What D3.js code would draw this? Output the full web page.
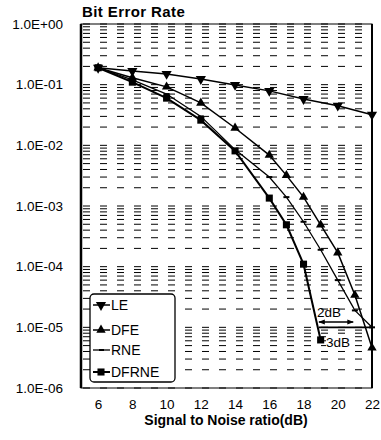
<!DOCTYPE html>
<meta charset="utf-8">
<style>
body { margin:0; background:#fff; font-family: Arial, "Liberation Sans", Helvetica, sans-serif; }
.grid line { stroke:#000; stroke-width:1; stroke-dasharray:7,10; }
</style>
<svg width="381" height="440"></svg>
<script src="https://d3js.org/d3.v7.min.js"></script>
<script>
// data
var xLE = [6, 8, 10, 12, 14, 16, 18, 20, 22];
var valLE = [0.19, 0.168, 0.15, 0.124, 0.099, 0.079, 0.058, 0.045, 0.032];

var xDFE = [6, 8, 10, 12, 14, 16, 17, 18, 19, 20, 21, 22];
var valDFE = [0.19, 0.13, 0.092, 0.05, 0.0193, 0.0069, 0.0032, 0.0014, 4.9e-4, 1.7e-4, 3.4e-5, 4.6e-6];

var xRNE = [6, 8, 10, 12, 14, 16, 17, 18, 19, 20, 21, 22];
var valRNE = [0.19, 0.12, 0.07, 0.03, 0.0085, 0.003, 0.0014, 5.5e-4, 1.9e-4, 6e-5, 1.9e-5, 1e-5];

var xDFRNE = [6, 8, 10, 12, 14, 16, 17, 18, 19];
var valDFRNE = [0.19, 0.11, 0.06, 0.026, 0.0081, 0.00135, 4.9e-4, 1.1e-4, 6.2e-6];

var seriesNames = ["LE", "DFE", "RNE", "DFRNE"];
var yTicks = [1, 1e-1, 1e-2, 1e-3, 1e-4, 1e-5, 1e-6];
var yTickLabels = ["1.0E+00", "1.0E-01", "1.0E-02", "1.0E-03", "1.0E-04", "1.0E-05", "1.0E-06"];
var xTicks = [6, 8, 10, 12, 14, 16, 18, 20, 22];

var svg = d3.select("svg");
var pLeft = 81, pRight = 372, pTop = 24, pBottom = 388;

var x = d3.scaleLinear().domain([5, 22]).range([pLeft, pRight]);
var y = d3.scaleLog().domain([1e-6, 1]).range([pBottom, pTop]);

// gridlines at every minor log step
var gridVals = [];
for (var e = -6; e < 0; e++) {
  for (var m = 1; m < 10; m++) gridVals.push(m * Math.pow(10, e));
}
gridVals.push(1);
svg.append("g").attr("class", "grid")
  .selectAll("line").data(gridVals).enter().append("line")
  .attr("x1", pLeft + 2).attr("x2", pRight)
  .attr("y1", function(d) { return y(d); })
  .attr("y2", function(d) { return y(d); });

// frame
svg.append("rect").attr("x", pLeft).attr("y", pTop)
  .attr("width", pRight - pLeft).attr("height", pBottom - pTop)
  .attr("fill", "none").attr("stroke", "#000").attr("stroke-width", 1);
svg.append("line").attr("x1", pLeft).attr("x2", pLeft).attr("y1", pTop).attr("y2", pBottom)
  .attr("stroke", "#000").attr("stroke-width", 2.5);
svg.append("line").attr("x1", pRight).attr("x2", pRight).attr("y1", pTop).attr("y2", pBottom)
  .attr("stroke", "#000").attr("stroke-width", 2);

// axes labels
var yAxis = d3.axisLeft(y).tickValues(yTicks).tickSize(0).tickPadding(18)
  .tickFormat(function(d, i) { return yTickLabels[i]; });
svg.append("g").attr("transform", "translate(" + pLeft + ",0)").call(yAxis)
  .call(function(g) { g.select(".domain").remove(); })
  .selectAll("text").attr("font-size", 13.5).attr("font-family", "Arial, Liberation Sans").attr("fill", "#000");

var xAxis = d3.axisBottom(x).tickValues(xTicks).tickSize(0).tickPadding(11);
svg.append("g").attr("transform", "translate(0," + pBottom + ")").call(xAxis)
  .call(function(g) { g.select(".domain").remove(); })
  .selectAll("text").attr("font-size", 13.5).attr("font-family", "Arial, Liberation Sans").attr("fill", "#000");

svg.append("text").attr("x", 82).attr("y", 17)
  .attr("font-size", 15).attr("font-weight", "bold").attr("letter-spacing", 0.4).text("Bit Error Rate");
svg.append("text").attr("x", 226).attr("y", 425)
  .attr("text-anchor", "middle").attr("font-size", 14).attr("font-weight", "bold")
  .text("Signal to Noise ratio(dB)");

// lines
var line = d3.line().x(function(d) { return x(d[0]); }).y(function(d) { return y(d[1]); });
function pairs(xs, vs) { return xs.map(function(v, i) { return [v, vs[i]]; }); }

var all = [
  { name: "LE", data: pairs(xLE, valLE), sym: d3.symbolTriangle, rot: 180, size: 45, w: 1.5 },
  { name: "DFE", data: pairs(xDFE, valDFE), sym: d3.symbolTriangle, rot: 0, size: 38, w: 1.5 },
  { name: "RNE", data: pairs(xRNE, valRNE), sym: null, rot: 0, size: 0, w: 1.3 },
  { name: "DFRNE", data: pairs(xDFRNE, valDFRNE), sym: d3.symbolSquare, rot: 0, size: 50, w: 2 }
];

all.forEach(function(s) {
  svg.append("path").datum(s.data).attr("d", line)
    .attr("fill", "none").attr("stroke", "#000").attr("stroke-width", s.w);
  if (s.sym) {
    svg.append("g").selectAll("path").data(s.data).enter().append("path")
      .attr("d", d3.symbol().type(s.sym).size(s.size))
      .attr("transform", function(d) { return "translate(" + x(d[0]) + "," + y(d[1]) + ") rotate(" + s.rot + ")"; })
      .attr("fill", "#000");
  } else {
    svg.append("g").selectAll("line").data(s.data).enter().append("line")
      .attr("x1", function(d) { return x(d[0]) - 3; }).attr("x2", function(d) { return x(d[0]) + 3; })
      .attr("y1", function(d) { return y(d[1]); }).attr("y2", function(d) { return y(d[1]); })
      .attr("stroke", "#000").attr("stroke-width", 2);
  }
});

// annotations
var defs = svg.append("defs");
defs.append("marker").attr("id", "ah").attr("viewBox", "0 0 10 10").attr("refX", 9).attr("refY", 5)
  .attr("markerWidth", 5).attr("markerHeight", 5).attr("orient", "auto-start-reverse")
  .append("path").attr("d", "M0,1 L10,5 L0,9 z").attr("fill", "#000");

svg.append("line").attr("x1", x(18.9)).attr("x2", x(20.9)).attr("y1", 322).attr("y2", 322)
  .attr("stroke", "#000").attr("stroke-width", 1.3)
  .attr("marker-start", "url(#ah)").attr("marker-end", "url(#ah)");
svg.append("line").attr("x1", x(18.9)).attr("x2", x(22)).attr("y1", y(1e-5)).attr("y2", y(1e-5))
  .attr("stroke", "#000").attr("stroke-width", 1.8);
svg.append("rect").attr("x", 326).attr("y", 335).attr("width", 27).attr("height", 13).attr("fill", "#fff");
svg.append("text").attr("x", 317).attr("y", 317).attr("font-size", 13.5).text("2dB");
svg.append("text").attr("x", 326).attr("y", 347).attr("font-size", 13.5).text("3dB");

// legend
var lg = svg.append("g").attr("transform", "translate(90,294)");
lg.append("rect").attr("width", 85).attr("height", 88).attr("rx", 4)
  .attr("fill", "#fff").attr("stroke", "#000").attr("stroke-width", 1.3);
var rows = [11, 36, 56, 78];
all.forEach(function(s, i) {
  var g = lg.append("g").attr("transform", "translate(0," + rows[i] + ")");
  g.append("line").attr("x1", 3).attr("x2", 20).attr("stroke", "#000").attr("stroke-width", s.w);
  if (s.sym) {
    g.append("path").attr("d", d3.symbol().type(s.sym).size(s.size))
      .attr("transform", "translate(11,0) rotate(" + s.rot + ")").attr("fill", "#000");
  } else {
    g.append("line").attr("x1", 9).attr("x2", 14).attr("stroke", "#000").attr("stroke-width", 2);
  }
  g.append("text").attr("x", 21).attr("y", 5).attr("font-size", 14).text(s.name);
});
</script>
